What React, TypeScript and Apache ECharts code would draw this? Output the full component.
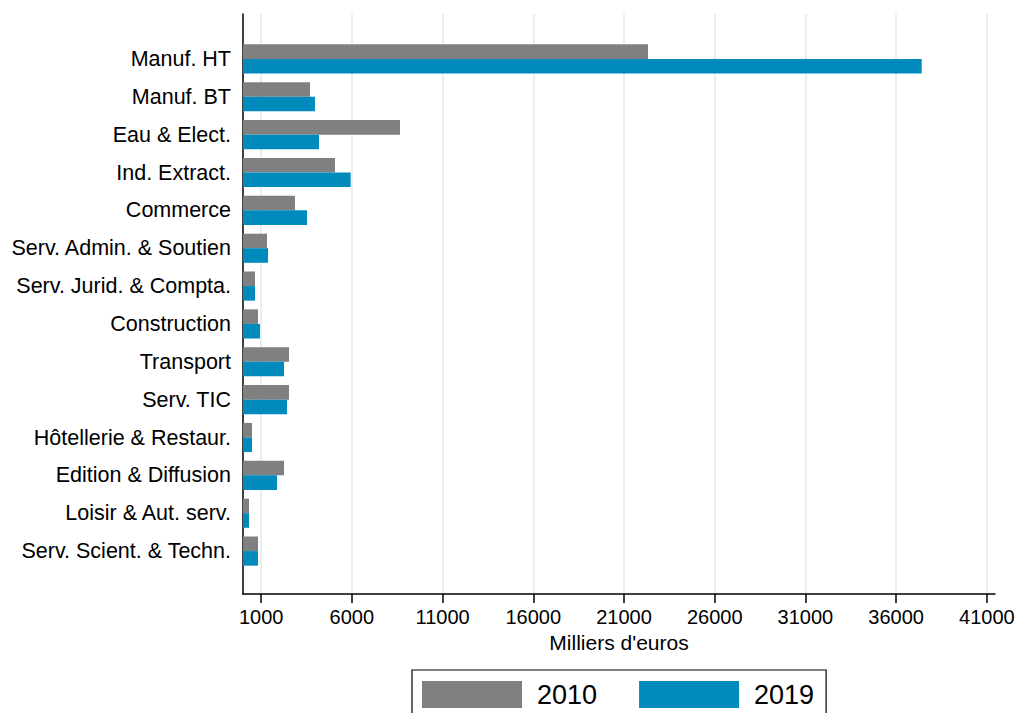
import React, { useEffect, useRef } from "react";
import * as echarts from "echarts";

const categories = [
  "Manuf. HT",
  "Manuf. BT",
  "Eau & Elect.",
  "Ind. Extract.",
  "Commerce",
  "Serv. Admin. & Soutien",
  "Serv. Jurid. & Compta.",
  "Construction",
  "Transport",
  "Serv. TIC",
  "Hôtellerie & Restaur.",
  "Edition & Diffusion",
  "Loisir & Aut. serv.",
  "Serv. Scient. & Techn.",
];
const values2010 = [22324, 3693, 8654, 5071, 2866, 1323, 661, 827, 2536, 2536, 496, 2260, 331, 827];
const values2019 = [37410, 3969, 4189, 5934, 3528, 1378, 661, 937, 2260, 2425, 496, 1874, 331, 827];
const tickValues = [1000, 6000, 11000, 16000, 21000, 26000, 31000, 36000, 41000];
const xMin = 0;
const xMax = 41450;
const xTitle = "Milliers d'euros";
const seriesNames = ["2010", "2019"];

const FONT = "'Liberation Sans', Arial, Helvetica, sans-serif";

export default function App() {
  const ref = useRef<HTMLDivElement>(null);
  useEffect(() => {
    if (!ref.current) return;
    const chart = echarts.init(ref.current, null, { renderer: "svg" });
    const left = 243;
    const right = 23;
    chart.setOption({
      animation: false,
      backgroundColor: "#ffffff",
      textStyle: { fontFamily: FONT },
      grid: [
        { left, right, top: 14, height: 580, containLabel: false },
        { left, right, top: 40, height: 530, containLabel: false },
      ],
      legend: {
        data: seriesNames,
        left: 412,
        top: 670,
        itemWidth: 100,
        itemHeight: 27,
        itemGap: 42,
        padding: [11, 12, 11, 10],
        borderColor: "#000",
        borderWidth: 1.2,
        borderRadius: 0,
        icon: "rect",
        textStyle: {
          fontSize: 27,
          color: "#000",
          fontFamily: FONT,
          padding: [0, 0, 0, 10],
        },
      },
      xAxis: [
        {
          type: "value",
          gridIndex: 0,
          min: xMin,
          max: xMax,
          name: xTitle,
          nameLocation: "middle",
          nameGap: 38,
          nameTextStyle: { fontSize: 21, color: "#000", fontFamily: FONT },
          axisLine: { show: true, lineStyle: { color: "#000", width: 1.5 } },
          axisTick: {
            show: true,
            length: 9,
            lineStyle: { color: "#000", width: 1.5 },
            customValues: tickValues,
          },
          axisLabel: {
            customValues: tickValues,
            formatter: (v: number) => String(v),
            fontSize: 20,
            color: "#000",
            margin: 13,
            fontFamily: FONT,
          },
          splitLine: {
            show: true,
            lineStyle: { color: "#E8EFF2", width: 2 },
          },
        },
        {
          type: "value",
          gridIndex: 1,
          min: xMin,
          max: xMax,
          show: false,
          splitLine: { show: false },
        },
      ],
      yAxis: [
        {
          type: "value",
          gridIndex: 0,
          axisLine: { show: true, onZero: false, lineStyle: { color: "#000", width: 1.5 } },
          axisTick: { show: false },
          axisLabel: { show: false },
          splitLine: { show: false },
        },
        {
          type: "category",
          gridIndex: 1,
          data: categories,
          inverse: true,
          axisLine: { show: false },
          axisTick: { show: false },
          axisLabel: { fontSize: 21.5, color: "#000", margin: 12, fontFamily: FONT },
          splitLine: { show: false },
        },
      ],
      series: [
        {
          name: seriesNames[0],
          type: "bar",
          xAxisIndex: 1,
          yAxisIndex: 1,
          data: values2010,
          barGap: "0%",
          barCategoryGap: "23%",
          itemStyle: { color: "#808080" },
        },
        {
          name: seriesNames[1],
          type: "bar",
          xAxisIndex: 1,
          yAxisIndex: 1,
          data: values2019,
          barGap: "0%",
          barCategoryGap: "23%",
          itemStyle: { color: "#008BBC" },
        },
      ],
    });
    return () => chart.dispose();
  }, []);
  return (
    <div
      ref={ref}
      style={{ position: "absolute", left: 0, top: 0, width: 1018, height: 713, background: "#fff" }}
    />
  );
}
